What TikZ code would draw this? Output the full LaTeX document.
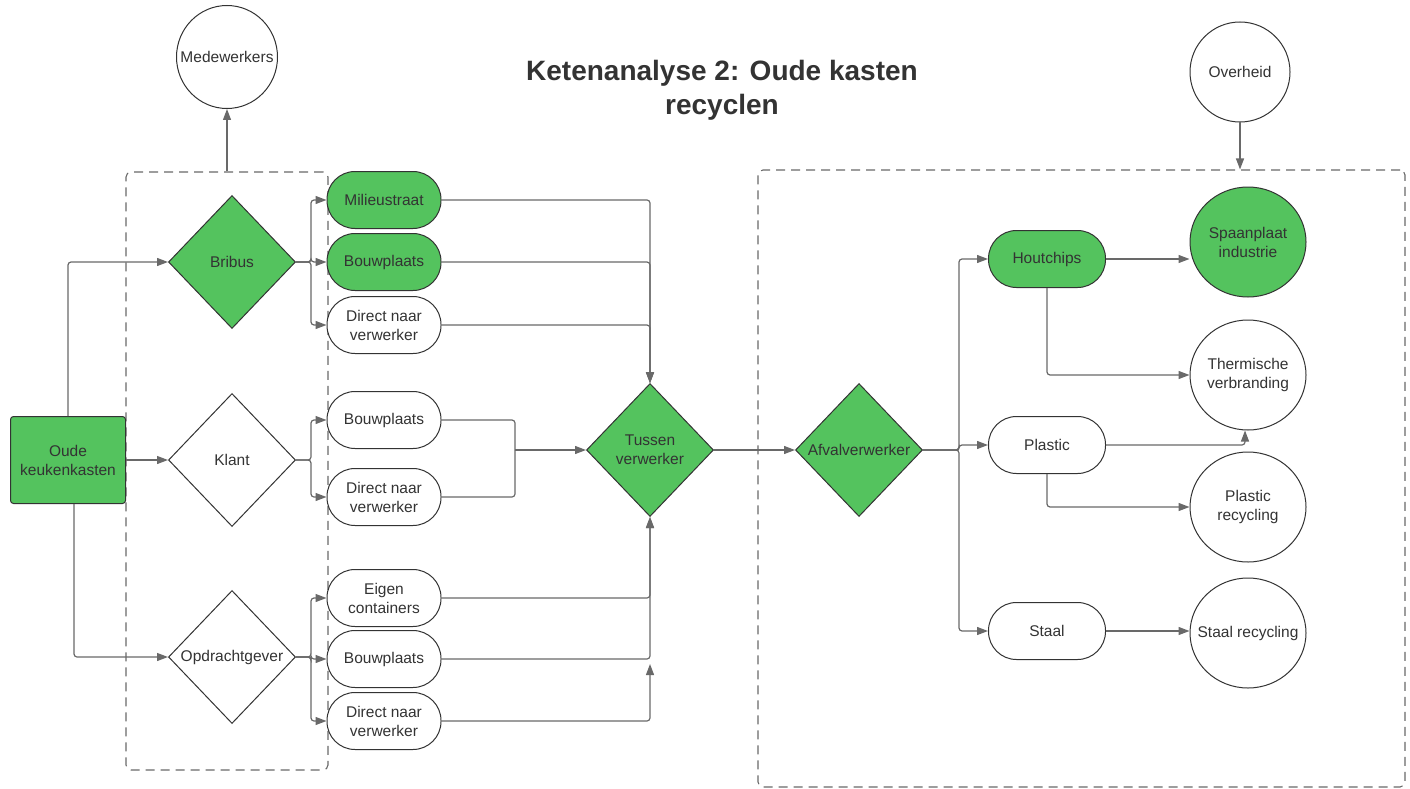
\documentclass[tikz,border=0pt]{standalone}
\usepackage{fontspec}
\setmainfont{Liberation Sans}
\usetikzlibrary{shapes.geometric,arrows.meta}

\definecolor{groen}{RGB}{84,195,94}
\definecolor{rand}{RGB}{51,51,51}
\definecolor{lijn}{RGB}{105,105,105}

\tikzset{
  ruit/.style={diamond,draw=rand,line width=1pt,inner sep=0pt,minimum width=127pt,minimum height=133pt,align=center},
  pil/.style={rectangle,rounded corners=28pt,draw=rand,line width=1pt,minimum width=114pt,minimum height=57pt,align=center,fill=white},
  rond/.style={ellipse,draw=rand,line width=1pt,minimum width=116pt,minimum height=110pt,fill=white},
  doos/.style={rectangle,rounded corners=3pt,draw=rand,line width=1pt,minimum width=115pt,minimum height=87pt,align=center},
  kader/.style={draw=lijn,dash pattern=on 9pt off 6pt,line width=1.1pt,rounded corners=5pt,inner sep=0pt},
  pijl/.style={draw=lijn,line width=1.2pt,rounded corners=3pt,-{Triangle[length=11pt,width=8pt]}},
  lijntje/.style={draw=lijn,line width=1.2pt,rounded corners=3pt},
}

\begin{document}
\begin{tikzpicture}[x=1pt,y=-1pt,font=\fontsize{15.5}{19}\selectfont,text=rand]
\useasboundingbox (0,0) rectangle (1410,789);

% kaders
\node[kader,minimum width=202pt,minimum height=598pt] (kaderL) at (227,471) {};
\node[kader,minimum width=647pt,minimum height=617pt] (kaderR) at (1081.5,478.5) {};

\node[font=\bfseries\fontsize{28}{34}\selectfont,align=center] (titel) at (722,90) {Ketenanalyse 2: Oude kasten\\recyclen};

\node[rond,minimum width=101pt,minimum height=103pt,label={center:Medewerkers}] (mede) at (227,57) {};
\node[rond,minimum width=100pt,minimum height=100pt,label={center:Overheid}] (over) at (1240,72) {};

\node[doos,fill=groen] (oude) at (68,460) {Oude\\keukenkasten};

\node[ruit,fill=groen] (bribus) at (232,262) {Bribus};
\node[ruit,fill=white] (klant) at (232,460) {Klant};
\node[ruit,fill=white] (opdr) at (232,657) {Opdrachtgever};

\node[pil,fill=groen] (bmil) at (384,200) {Milieustraat};
\node[pil,fill=groen] (bbouw) at (384,262) {Bouwplaats};
\node[pil] (bdir) at (384,325) {Direct naar\\verwerker};
\node[pil] (kbouw) at (384,420) {Bouwplaats};
\node[pil] (kdir) at (384,497) {Direct naar\\verwerker};
\node[pil] (oeigen) at (384,598) {Eigen\\containers};
\node[pil] (obouw) at (384,659) {Bouwplaats};
\node[pil] (odir) at (384,721) {Direct naar\\verwerker};

\node[ruit,fill=groen] (tussen) at (650,450) {Tussen\\verwerker};
\node[ruit,fill=groen] (afval) at (859,450) {Afvalverwerker};

\node[pil,fill=groen,minimum width=117pt] (hout) at (1047,259) {Houtchips};
\node[pil,minimum width=117pt] (plastic) at (1047,445) {Plastic};
\node[pil,minimum width=117pt] (staal) at (1047,631) {Staal};

\node[rond,fill=groen,label={[align=center]center:Spaanplaat\\industrie}] (spaan) at (1248,242) {};
\node[rond,label={[align=center]center:Thermische\\verbranding}] (therm) at (1248,375) {};
\node[rond,label={[align=center]center:Plastic\\recycling}] (precyc) at (1248,507) {};
\node[rond,label={center:Staal recycling}] (srecyc) at (1248,633) {};

% pijlen links
\draw[pijl] (kaderL.north) -- (mede.south);
\draw[pijl] (over.south) -- (over.south |- kaderR.north);
\draw[pijl] (oude.north) |- (bribus.west);
\draw[pijl] (oude.east) -- (klant.west);
\draw[pijl] ([xshift=6pt]oude.south) |- (opdr.west);
\foreach \van/\naar in {bribus/bmil,bribus/bbouw,bribus/bdir,klant/kbouw,klant/kdir,opdr/oeigen,opdr/obouw,opdr/odir}
\draw[pijl] (\van.east) -- ++(15,0) |- (\naar.west);

% naar tussen verwerker
\foreach \van in {bmil,bbouw,bdir}
\draw[pijl] (\van.east) -| (tussen.north);
\coordinate (kjoin) at (515,450);
\foreach \van in {kbouw,kdir}
\draw[lijntje] (\van.east) -| (kjoin);
\draw[pijl] (kjoin) -- (tussen.west);
\foreach \van in {oeigen,obouw}
\draw[pijl] (\van.east) -| (tussen.south);
\coordinate (ojoin) at (650,664);
\draw[pijl] (odir.east) -| (ojoin);

% rechts
\draw[pijl] (tussen.east) -- (afval.west);
\foreach \naar in {hout,plastic,staal}
\draw[pijl] (afval.east) -- ++(36,0) |- (\naar.west);
\draw[pijl] (hout.east) -- (hout.east -| spaan.west);
\draw[pijl] (hout.south) |- (therm.west);
\draw[pijl] (plastic.east) -| ([xshift=-3pt]therm.south);
\draw[pijl] (plastic.south) |- (precyc.west);
\draw[pijl] (staal.east) -- (staal.east -| srecyc.west);
\end{tikzpicture}
\end{document}
